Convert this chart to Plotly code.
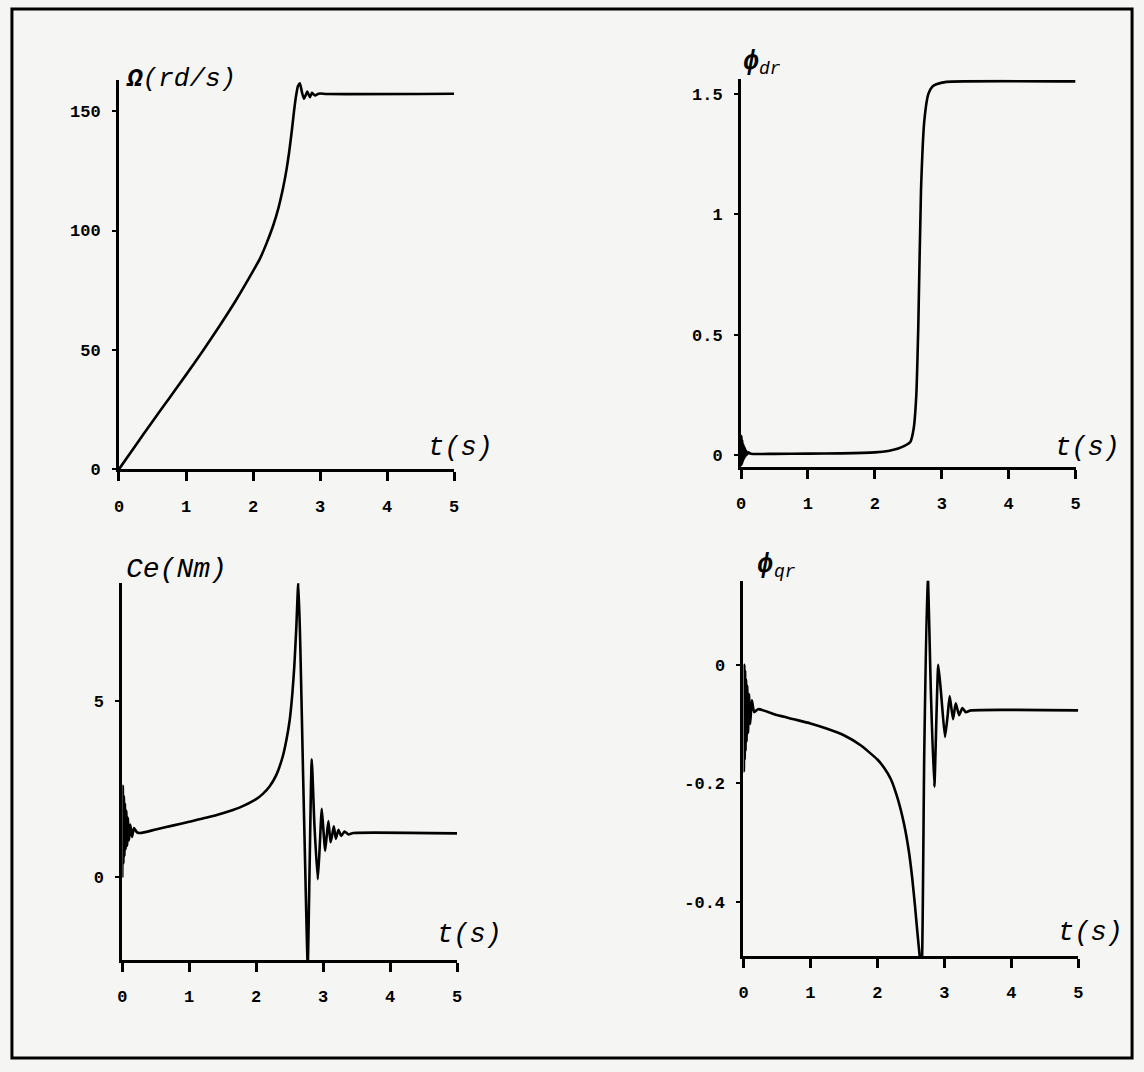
import plotly.graph_objects as go

W, H = 1144, 1072

# ---------------- data ----------------
x_ticks = [0, 1, 2, 3, 4, 5]

# Omega (rd/s)
t_omega = [0.00, 0.25, 0.50, 0.75, 1.00, 1.25, 1.50, 1.75, 2.00, 2.10, 2.20, 2.30, 2.38, 2.45,
           2.50, 2.54, 2.58, 2.61, 2.64, 2.67, 2.70, 2.73, 2.76, 2.79, 2.81, 2.83, 2.85, 2.87,
           2.88, 2.90, 2.93, 2.96, 3.00, 3.10, 5.00]
omega = [0, 10, 20, 29.7, 39.5, 49.5, 60, 71, 83, 88, 94.5, 102, 109.5, 118,
         125.5, 133, 142, 149.5, 156, 160.5, 161.7, 158, 155.2, 157, 158.2, 157, 155.9, 157,
         157.7, 157.2, 156.6, 157.1, 157.4, 157.2, 157.3]
omega_ticks = [0, 50, 100, 150]

# phi_dr
t_phidr = [0.000, 0.006, 0.012, 0.018, 0.024, 0.030, 0.036, 0.042, 0.050, 0.058, 0.066, 0.076,
           0.090, 0.110, 0.150, 0.50, 1.00, 1.50, 2.00, 2.20, 2.35, 2.45, 2.53, 2.58, 2.62,
           2.65, 2.69, 2.74, 2.80, 2.86, 2.92, 3.07, 5.00]
phidr = [0.0, 0.08, -0.04, 0.065, -0.03, 0.05, -0.02, 0.04, -0.012, 0.03, -0.005, 0.02,
         0.003, 0.012, 0.006, 0.006, 0.007, 0.008, 0.012, 0.018, 0.028, 0.040, 0.055, 0.11, 0.25,
         0.54, 1.10, 1.39, 1.50, 1.53, 1.54, 1.55, 1.552]
phidr_ticks = [0, 0.5, 1, 1.5]
phidr_ticktext = ["0", "0.5", "1", "1.5"]

# Ce (Nm)
t_ce = [0.000, 0.008, 0.016, 0.024, 0.032, 0.040, 0.050, 0.060, 0.072, 0.085, 0.100, 0.120,
        0.145, 0.175, 0.22, 0.27, 0.50, 0.75, 1.00, 1.25, 1.50, 1.75, 2.00, 2.10, 2.20, 2.30,
        2.40, 2.45, 2.50, 2.54, 2.57, 2.60, 2.63, 2.66, 2.70, 2.73, 2.77, 2.80, 2.83, 2.87,
        2.92, 2.95, 2.98, 3.01, 3.03, 3.06, 3.08, 3.11, 3.13, 3.16, 3.19, 3.23, 3.27, 3.32,
        3.38, 3.45, 5.00]
ce = [0.0, 2.6, 0.4, 2.3, 0.6, 2.1, 0.8, 1.9, 0.9, 1.7, 1.05, 1.5,
      1.15, 1.4, 1.28, 1.26, 1.36, 1.47, 1.58, 1.69, 1.82, 1.98, 2.22, 2.37, 2.58, 2.90,
      3.45, 3.88, 4.45, 5.20, 6.00, 7.10, 8.40, 6.5, 3.0, 0.5, -2.5, 0.5, 3.35, 1.5,
      -0.05, 0.9, 1.95, 1.2, 0.75, 1.3, 1.6, 1.0, 1.15, 1.45, 1.1, 1.35, 1.18, 1.3,
      1.22, 1.26, 1.25]
ce_ticks = [0, 5]

# phi_qr
t_phiqr = [0.000, 0.006, 0.012, 0.018, 0.024, 0.030, 0.038, 0.046, 0.056, 0.068, 0.082, 0.100,
           0.125, 0.16, 0.22, 0.50, 0.75, 1.00, 1.25, 1.50, 1.75, 2.00, 2.10, 2.20, 2.30, 2.40,
           2.47, 2.52, 2.56, 2.60, 2.63, 2.66, 2.70, 2.75, 2.80, 2.85, 2.91, 2.96, 3.01, 3.05,
           3.08, 3.13, 3.17, 3.22, 3.27, 3.32, 3.40, 5.00]
phiqr = [0.0, -0.18, 0.0, -0.16, -0.01, -0.145, -0.025, -0.13, -0.035, -0.115, -0.05, -0.10,
         -0.06, -0.08, -0.075, -0.085, -0.092, -0.099, -0.108, -0.119, -0.136, -0.160, -0.174, -0.193,
         -0.225, -0.27, -0.315, -0.36, -0.405, -0.455, -0.49, -0.52, -0.15, 0.16, -0.05, -0.206,
         0.0, -0.06, -0.122, -0.085, -0.053, -0.092, -0.065, -0.085, -0.073, -0.08, -0.077, -0.077]
phiqr_ticks = [0, -0.2, -0.4]
phiqr_ticktext = ["0", "-0.2", "-0.4"]

for a, b in [(t_omega, omega), (t_phidr, phidr), (t_ce, ce), (t_phiqr, phiqr)]:
    assert len(a) == len(b), (len(a), len(b))

# ---------------- figure ----------------
BG = "#f5f5f3"
MONO = "Liberation Mono, DejaVu Sans Mono, monospace"
TICKFONT = dict(family=MONO, size=17, color="black", weight="bold")


def px_x(p):
    return p / W


def px_y(p):
    return 1 - p / H


fig = go.Figure()
line = dict(color="black", width=2.6, shape="spline", smoothing=0.5)
fig.add_trace(go.Scatter(x=t_omega, y=omega, mode="lines", line=line, xaxis="x", yaxis="y"))
fig.add_trace(go.Scatter(x=t_phidr, y=phidr, mode="lines", line=line, xaxis="x2", yaxis="y2"))
fig.add_trace(go.Scatter(x=t_ce, y=ce, mode="lines", line=line, xaxis="x3", yaxis="y3"))
fig.add_trace(go.Scatter(x=t_phiqr, y=phiqr, mode="lines", line=line, xaxis="x4", yaxis="y4"))


def xax(dom, anchor):
    return dict(domain=dom, anchor=anchor, range=[0, 5], tickvals=x_ticks,
                ticks="outside", ticklen=9, tickwidth=3, tickcolor="black",
                showline=True, linewidth=3, linecolor="black", showgrid=False,
                zeroline=False, tickfont=TICKFONT, ticklabelstandoff=10, fixedrange=True)


def yax(dom, anchor, rng, tv, tt=None):
    d = dict(domain=dom, anchor=anchor, range=rng, tickvals=tv,
             ticks="outside", ticklen=4, tickwidth=2, tickcolor="black",
             showline=True, linewidth=3, linecolor="black", showgrid=False,
             zeroline=False, tickfont=TICKFONT, ticklabelstandoff=8, fixedrange=True)
    if tt is not None:
        d["ticktext"] = tt
    return d


fig.update_layout(
    width=W, height=H, autosize=False,
    margin=dict(l=0, r=0, t=0, b=0),
    paper_bgcolor=BG, plot_bgcolor=BG,
    showlegend=False,
    xaxis=xax([px_x(115), px_x(453)], "y"),
    yaxis=yax([px_y(474), px_y(81)], "x", [0, 163], omega_ticks),
    xaxis2=xax([px_x(742.5), px_x(1080)], "y2"),
    yaxis2=yax([px_y(471.7), px_y(80.3)], "x2", [-0.048, 1.56], phidr_ticks, phidr_ticktext),
    xaxis3=xax([px_x(118.3), px_x(456)], "y3"),
    yaxis3=yax([px_y(970), px_y(589.3)], "x3", [-2.34, 8.34], ce_ticks),
    xaxis4=xax([px_x(745), px_x(1082.7)], "y4"),
    yaxis4=yax([px_y(966), px_y(586.7)], "x4", [-0.492, 0.142], phiqr_ticks, phiqr_ticktext),
)

# outer frame
fig.add_shape(type="rect", xref="paper", yref="paper",
              x0=px_x(7), x1=px_x(1137), y0=px_y(1069), y1=px_y(9),
              line=dict(color="black", width=3), fillcolor="rgba(0,0,0,0)")


def label(text, x, y, size, family=MONO):
    fig.add_annotation(x=px_x(x), y=px_y(y), xref="paper", yref="paper",
                       xanchor="left", yanchor="middle", text=text, showarrow=False,
                       font=dict(family=family, size=size, color="black"))


label("<b><i>Ω</i></b><i>(rd/s)</i>", 120, 80, 26)
label("<i>t(s)</i>", 425, 453, 27)
label("<b><i>ϕ</i></b>", 742, 63, 27)
label("<i>dr</i>", 759, 70, 18)
label("<i>t(s)</i>", 1057, 453, 27)
label("<i>Ce(Nm)</i>", 120, 575, 28)
label("<i>t(s)</i>", 434, 945, 27)
label("<b><i>ϕ</i></b>", 757, 571, 27)
label("<i>qr</i>", 774, 578, 18)
label("<i>t(s)</i>", 1060, 943, 27)

fig.write_html("out.html")
